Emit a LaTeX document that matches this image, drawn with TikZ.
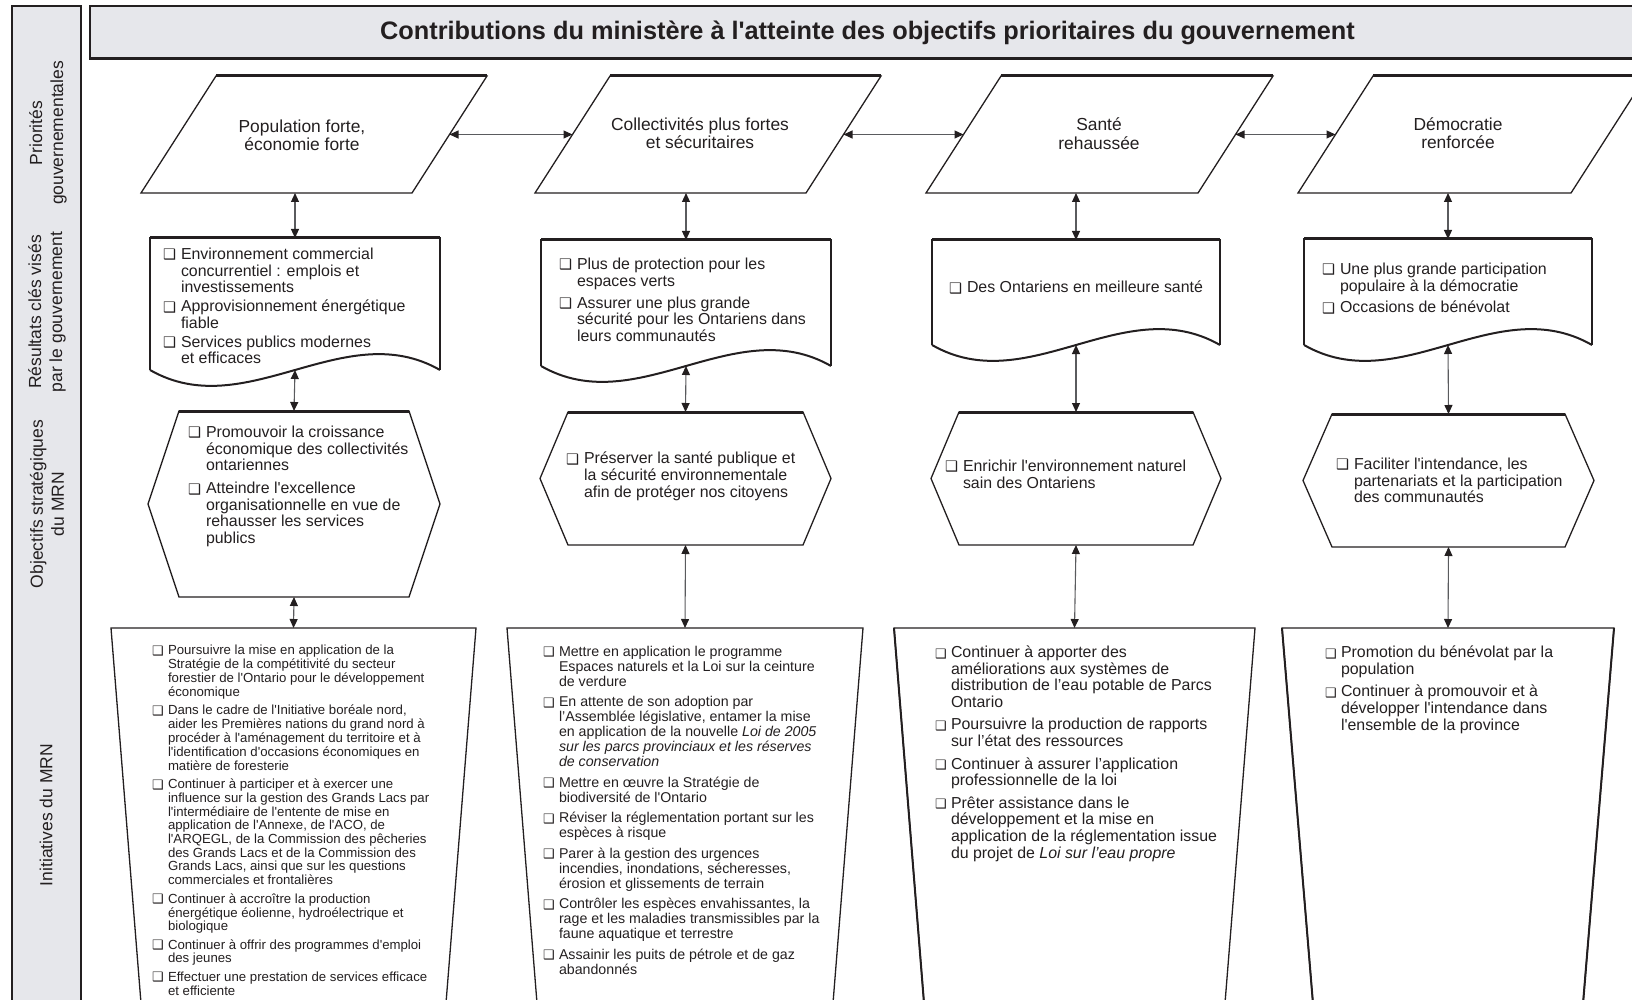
\documentclass[tikz,border=0pt]{standalone}
\usepackage{fontspec}
\setmainfont{Liberation Sans}[Ligatures=TeXOff]
\newfontfamily\symfont{DejaVu Sans}
\usepackage{xcolor}
\usepackage{tikz}
\usetikzlibrary{arrows.meta,calc,positioning}

\definecolor{ink}{RGB}{35,31,32}
\definecolor{bargray}{RGB}{230,231,235}
\definecolor{linkgray}{RGB}{90,91,94}

\newcommand{\bx}{\makebox[18pt][l]{\raisebox{-0.3pt}[0pt][0pt]{\symfont\fontsize{14.5}{14.5}\selectfont ❑}}}
\newcommand{\bxs}{\makebox[16pt][l]{\raisebox{-0.3pt}[0pt][0pt]{\symfont\fontsize{13}{13}\selectfont ❑}}}

\tikzset{
  every node/.style={text=ink},
  outline/.style={draw=ink, line width=1.3pt},
  edge/.style={draw=ink, line width=3pt},
  wave/.style={draw=ink, line width=2pt},
  link/.style={<->, draw=linkgray, line width=1.1pt},
  bar/.style={rectangle, draw=ink, line width=1.3pt, fill=bargray, inner sep=0pt, outer sep=0pt},
  lab/.style={rotate=90, align=center, font=\fontsize{17.5}{21}\selectfont},
  box/.style={rectangle, inner sep=0pt, outer sep=0pt},
  ptxt/.style={align=center, inner sep=0pt, font=\fontsize{17.4}{18.5}\selectfont},
  lst/.style={anchor=north west, inner sep=0pt, outer sep=0pt, font=\fontsize{15.9}{16.5}\selectfont},
  lsta/.style={lst, font=\fontsize{13.2}{13.6}\selectfont},
  lstb/.style={lst, font=\fontsize{14.2}{15}\selectfont},
}

\begin{document}
\begin{tikzpicture}[x=1pt, y=-1pt, >={Triangle[length=9pt,width=8pt,color=ink]}]
    \useasboundingbox (0,0) rectangle (1632,1000);
    \clip (0,0) rectangle (1632,1000);

    % Side bar and row labels
    \node[bar, minimum width=69pt, minimum height=1004pt] (side) at (46.5,508) {};
    \node[lab] (lab1) at (48,133) {Priorités\\gouvernementales};
    \node[lab] (lab2) at (47,312) {Résultats clés visés\\par le gouvernement};
    \node[lab] (lab3) at (47,504) {Objectifs stratégiques\\du MRN};
    \node[lab] (lab4) at (46,815) {Initiatives du MRN};

    % Title bar
    \node[bar, minimum width=1555pt, minimum height=53pt,
      font=\bfseries\fontsize{25.3}{28}\selectfont] (title) at (867.5,32.5)
      {Contributions du ministère à l'atteinte des objectifs prioritaires du gouvernement};
    \draw[edge] (title.south west) -- (title.south east); % shadow edge

    % Government priorities (parallelograms)
    \node[box, minimum width=346pt, minimum height=117pt] (pr1) at (314,134.5) {};
    \node[box, minimum width=346pt, minimum height=117pt] (pr2) at (708,134.5) {};
    \node[box, minimum width=347pt, minimum height=117pt] (pr3) at (1099.5,134.5) {};
    \node[box, minimum width=348pt, minimum height=117pt] (pr4) at (1472,134.5) {};
    \foreach \n in {pr1,pr2,pr3,pr4} {
        \draw[outline] (\n.south west) -- ($(\n.north west)+(75,0)$) -- (\n.north east)
            -- ($(\n.south east)+(-75,0)$) -- cycle;
        \draw[edge] ($(\n.north west)+(75,0)$) -- (\n.north east);
    }
    \node[ptxt] (t-pr1) at (302,135.5) {Population forte,\\économie forte};
    \node[ptxt] (t-pr2) at (700,133) {Collectivités plus fortes\\et sécuritaires};
    \node[ptxt] (t-pr3) at (1099,133.5) {Santé\\rehaussée};
    \node[ptxt] (t-pr4) at (1458,133) {Démocratie\\renforcée};

    % Key results (documents)
    \node[box, minimum width=290pt, minimum height=132pt] (res1) at (295,304) {};
    \node[box, minimum width=290pt, minimum height=126pt] (res2) at (686,303) {};
    \node[box, minimum width=288pt, minimum height=105pt] (res3) at (1076,292.5) {};
    \node[box, minimum width=288pt, minimum height=106pt] (res4) at (1448,292) {};
    \foreach \n in {res1,res2,res3,res4} {
        \draw[outline] (\n.south west) -- (\n.north west) -- (\n.north east) -- (\n.south east);
        \draw[wave] (\n.south east) .. controls ($(\n.south east)+(-96,-55)$)
            and ($(\n.south west)+(96,55)$) .. (\n.south west);
        \draw[edge] (\n.north west) -- (\n.north east);
    }

    % Strategic objectives (hexagons)
    \node[box, minimum width=292pt, minimum height=186pt] (obj1) at (294,504) {};
    \node[box, minimum width=291pt, minimum height=133pt] (obj2) at (685.5,478.5) {};
    \node[box, minimum width=290pt, minimum height=133pt] (obj3) at (1076,478.5) {};
    \node[box, minimum width=291pt, minimum height=133pt] (obj4) at (1448.5,480.5) {};
    \foreach \n/\d in {obj1/31,obj2/28,obj3/28,obj4/29} {
        \draw[outline] (\n.west) -- ($(\n.north west)+(\d,0)$) -- ($(\n.north east)+(-\d,0)$)
            -- (\n.east) -- ($(\n.south east)+(-\d,0)$) -- ($(\n.south west)+(\d,0)$) -- cycle;
        \draw[edge] ($(\n.north west)+(\d,0)$) -- ($(\n.north east)+(-\d,0)$);
    }

    % Initiatives (open trapezoids)
    \node[box, minimum width=365pt, minimum height=400pt] (ini1) at (293.5,828) {};
    \node[box, minimum width=356pt, minimum height=400pt] (ini2) at (685,828) {};
    \node[box, minimum width=361pt, minimum height=400pt] (ini3) at (1074.5,828) {};
    \node[box, minimum width=332pt, minimum height=400pt] (ini4) at (1448,828) {};
    \foreach \n/\d in {ini1/32,ini2/32,ini3/32,ini4/33}
        \draw[outline] ($(\n.south west)+(\d,0)$) -- (\n.north west) -- (\n.north east)
            -- ($(\n.south east)+(-\d,0)$);
    \draw[wave] ($(ini3.south west)+(32,0)$) -- (ini3.north west);
    \draw[wave] ($(ini4.south west)+(33,0)$) -- (ini4.north west);
    \draw[wave] ($(ini4.south east)+(-33,0)$) -- (ini4.north east);

    % Connectors
    \foreach \i in {1,2,3,4} {
        \draw[link] (pr\i.south -| res\i.north) -- (res\i.north);
        \draw[link] (res\i.south) -- (obj\i.north);
        \draw[link] (obj\i.south) -- (ini\i.north);
    }
    \foreach \i/\j in {1/2,2/3,3/4}
        \draw[link] ($(pr\i.east)+(-37.5,0)$) -- ($(pr\j.west)+(37.5,0)$);

    % Texts of the key results
    \node[lst] (t-res1) at (163,248) {\begin{tabular}{@{}l@{}l@{}}
        \bx & Environnement commercial\\
            & concurrentiel : emplois et\\
            & investissements\\[2.5pt]
        \bx & Approvisionnement énergétique\\
            & fiable\\[2.5pt]
        \bx & Services publics modernes\\
            & et efficaces
        \end{tabular}};
    \node[lst] (t-res2) at (559,258) {\begin{tabular}{@{}l@{}l@{}}
        \bx & Plus de protection pour les\\
            & espaces verts\\[5.5pt]
        \bx & Assurer une plus grande\\
            & sécurité pour les Ontariens dans\\
            & leurs communautés
        \end{tabular}};
    \node[lst] (t-res3) at (949,281) {\begin{tabular}{@{}l@{}l@{}}
        \bx & Des Ontariens en meilleure santé
        \end{tabular}};
    \node[lst] (t-res4) at (1322,263) {\begin{tabular}{@{}l@{}l@{}}
        \bx & Une plus grande participation\\
            & populaire à la démocratie\\[5pt]
        \bx & Occasions de bénévolat
        \end{tabular}};

    % Texts of the objectives
    \node[lst] (t-obj1) at (188,426) {\begin{tabular}{@{}l@{}l@{}}
        \bx & Promouvoir la croissance\\
            & économique des collectivités\\
            & ontariennes\\[6.5pt]
        \bx & Atteindre l'excellence\\
            & organisationnelle en vue de\\
            & rehausser les services\\
            & publics
        \end{tabular}};
    \node[lst] (t-obj2) at (566,452) {\begin{tabular}{@{}l@{}l@{}}
        \bx & Préserver la santé publique et\\
            & la sécurité environnementale\\
            & afin de protéger nos citoyens
        \end{tabular}};
    \node[lst] (t-obj3) at (945,460) {\begin{tabular}{@{}l@{}l@{}}
        \bx & Enrichir l'environnement naturel\\
            & sain des Ontariens
        \end{tabular}};
    \node[lst] (t-obj4) at (1336,458) {\begin{tabular}{@{}l@{}l@{}}
        \bx & Faciliter l'intendance, les\\
            & partenariats et la participation\\
            & des communautés
        \end{tabular}};

    % Texts of the initiatives
    \node[lsta] (t-ini1) at (152,645.4) {\begin{tabular}{@{}l@{}l@{}}
        \bxs & Poursuivre la mise en application de la\\
             & Stratégie de la compétitivité du secteur\\
             & forestier de l'Ontario pour le développement\\
             & économique\\[4.8pt]
        \bxs & Dans le cadre de l'Initiative boréale nord,\\
             & aider les Premières nations du grand nord à\\
             & procéder à l'aménagement du territoire et à\\
             & l'identification d'occasions économiques en\\
             & matière de foresterie\\[4.8pt]
        \bxs & Continuer à participer et à exercer une\\
             & influence sur la gestion des Grands Lacs par\\
             & l'intermédiaire de l'entente de mise en\\
             & application de l'Annexe, de l'ACO, de\\
             & l'ARQEGL, de la Commission des pêcheries\\
             & des Grands Lacs et de la Commission des\\
             & Grands Lacs, ainsi que sur les questions\\
             & commerciales et frontalières\\[4.8pt]
        \bxs & Continuer à accroître la production\\
             & énergétique éolienne, hydroélectrique et\\
             & biologique\\[4.8pt]
        \bxs & Continuer à offrir des programmes d'emploi\\
             & des jeunes\\[4.8pt]
        \bxs & Effectuer une prestation de services efficace\\
             & et efficiente
        \end{tabular}};
    \node[lstb] (t-ini2) at (543,645.8) {\begin{tabular}{@{}l@{}l@{}}
        \bxs & Mettre en application le programme\\
             & Espaces naturels et la Loi sur la ceinture\\
             & de verdure\\[5.5pt]
        \bxs & En attente de son adoption par\\
             & l’Assemblée législative, entamer la mise\\
             & en application de la nouvelle \emph{Loi de 2005}\\
             & \emph{sur les parcs provinciaux et les réserves}\\
             & \emph{de conservation}\\[5.5pt]
        \bxs & Mettre en œuvre la Stratégie de\\
             & biodiversité de l'Ontario\\[5.5pt]
        \bxs & Réviser la réglementation portant sur les\\
             & espèces à risque\\[5.5pt]
        \bxs & Parer à la gestion des urgences\\
             & incendies, inondations, sécheresses,\\
             & érosion et glissements de terrain\\[5.5pt]
        \bxs & Contrôler les espèces envahissantes, la\\
             & rage et les maladies transmissibles par la\\
             & faune aquatique et terrestre\\[5.5pt]
        \bxs & Assainir les puits de pétrole et de gaz\\
             & abandonnés
        \end{tabular}};
    \node[lst] (t-ini3) at (935,646) {\begin{tabular}{@{}l@{}l@{}}
        \bxs & Continuer à apporter des\\
             & améliorations aux systèmes de\\
             & distribution de l’eau potable de Parcs\\
             & Ontario\\[6pt]
        \bxs & Poursuivre la production de rapports\\
             & sur l’état des ressources\\[6pt]
        \bxs & Continuer à assurer l’application\\
             & professionnelle de la loi\\[6pt]
        \bxs & Prêter assistance dans le\\
             & développement et la mise en\\
             & application de la réglementation issue\\
             & du projet de \emph{Loi sur l’eau propre}
        \end{tabular}};
    \node[lst] (t-ini4) at (1325,646) {\begin{tabular}{@{}l@{}l@{}}
        \bxs & Promotion du bénévolat par la\\
             & population\\[6pt]
        \bxs & Continuer à promouvoir et à\\
             & développer l'intendance dans\\
             & l'ensemble de la province
        \end{tabular}};
\end{tikzpicture}
\end{document}
